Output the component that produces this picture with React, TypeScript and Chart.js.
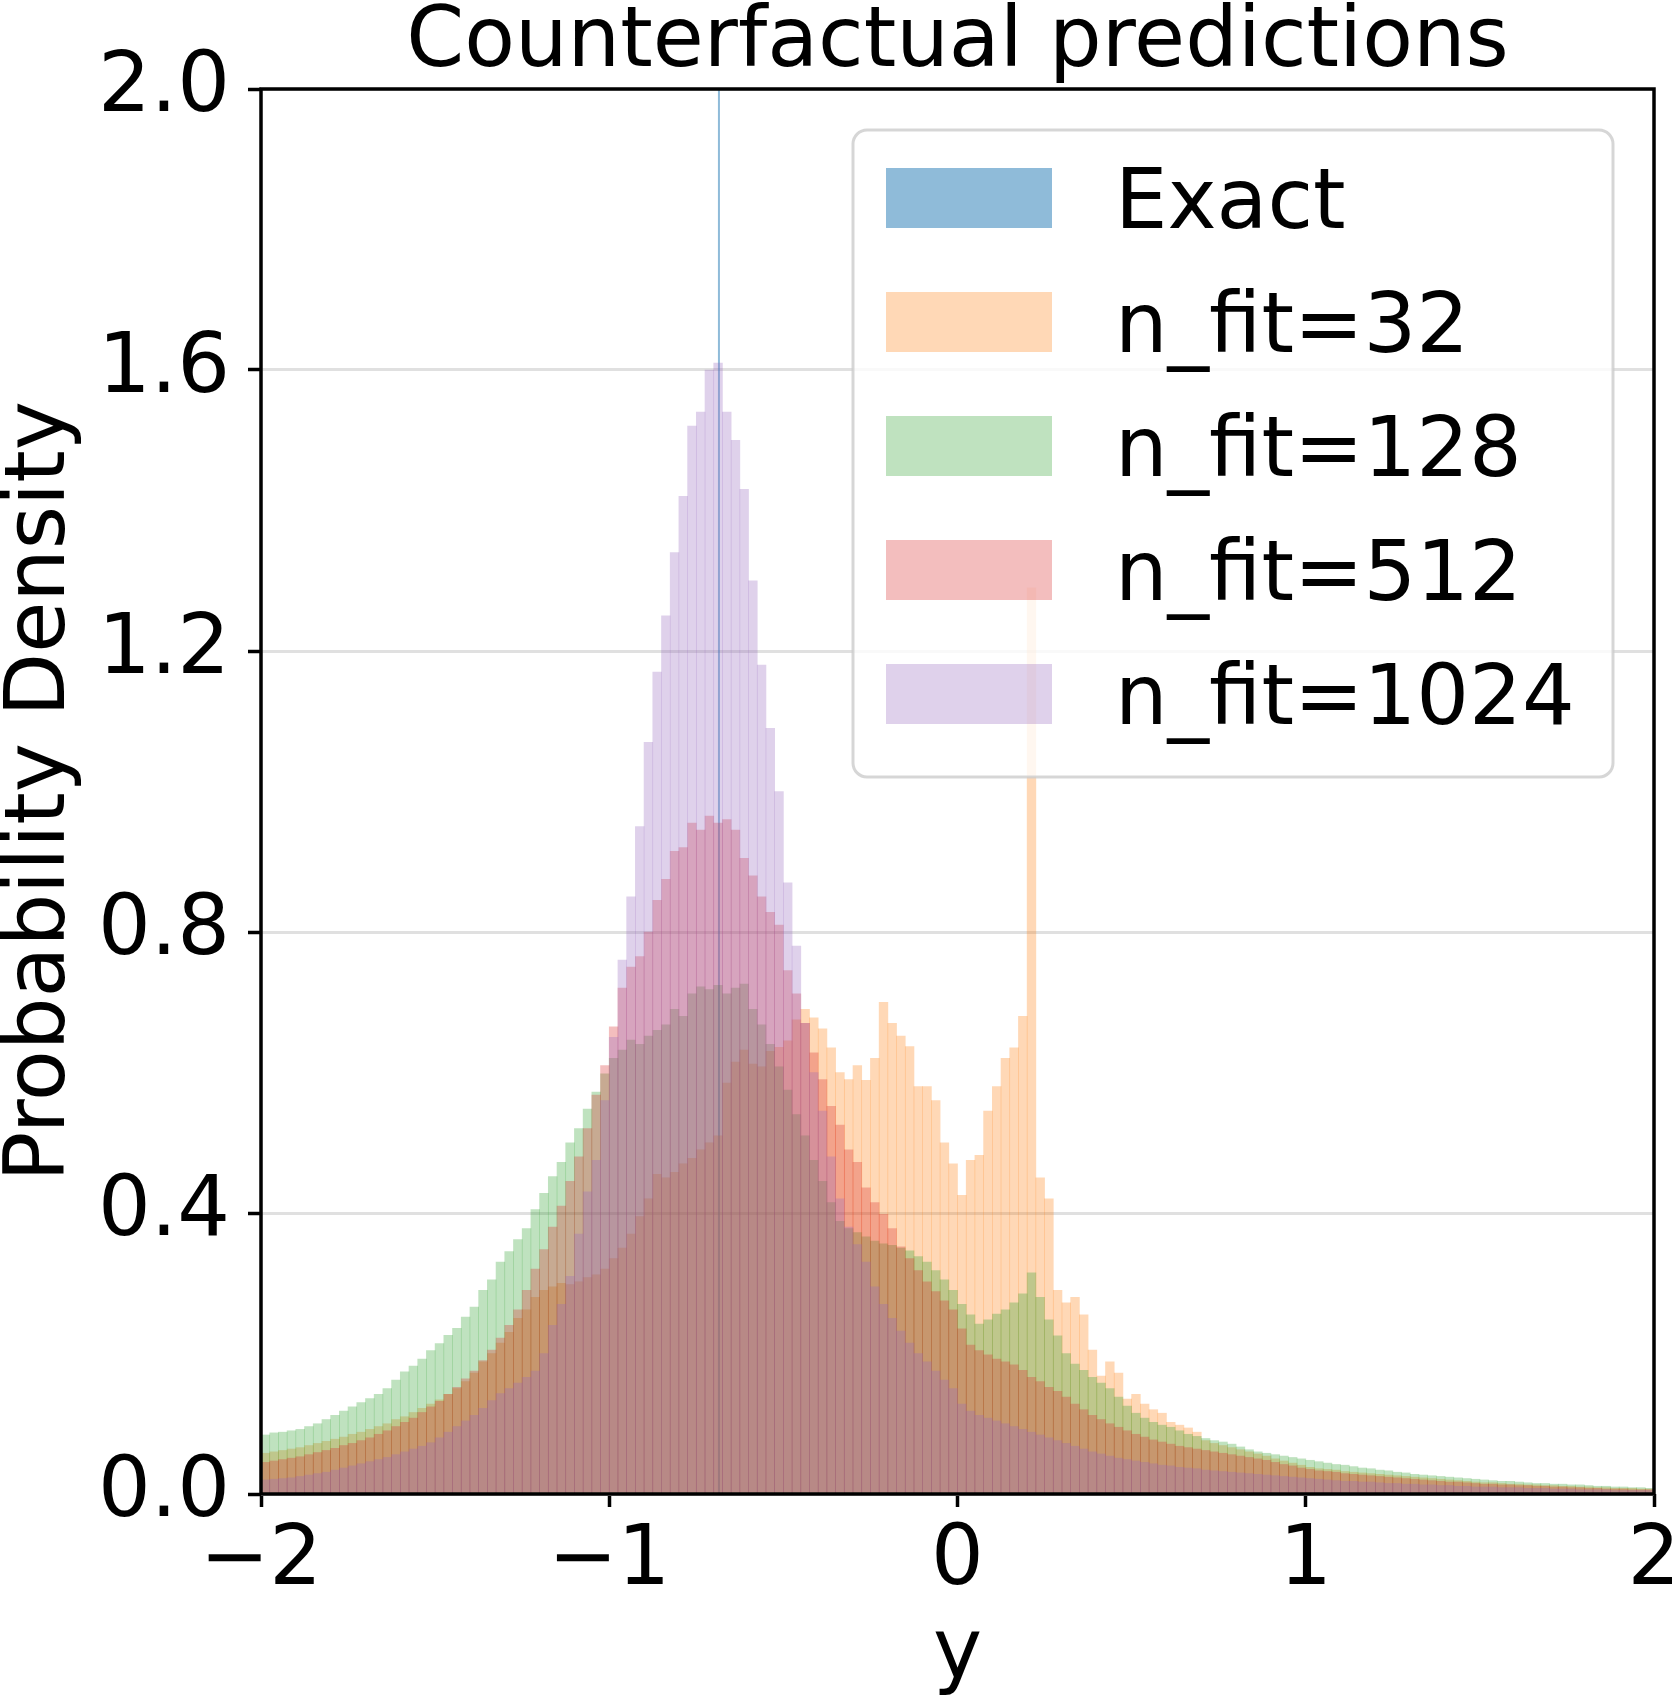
import { useEffect, useRef } from "react";
import { Chart, registerables } from "chart.js";

Chart.register(...registerables);

const chartTitle = "Counterfactual predictions";
const xAxisLabel = "y";
const yAxisLabel = "Probability Density";
const xTickValues = [-2, -1, 0, 1, 2];
const yTickValues = [0, 0.4, 0.8, 1.2, 1.6, 2.0];
const binStart = -2;
const binWidth = 0.025;
const exactValue = -0.685;
const seriesLabels = ["Exact", "n_fit=32", "n_fit=128", "n_fit=512", "n_fit=1024"];
const seriesColors = [
  "rgba(31,119,180,0.5)",
  "rgba(255,127,14,0.3)",
  "rgba(44,160,44,0.3)",
  "rgba(214,39,40,0.3)",
  "rgba(148,103,189,0.3)",
];

const nfit32 = [
  0.058, 0.060, 0.062, 0.064, 0.066, 0.069, 0.072, 0.075, 0.078, 0.081, 0.085, 0.088,
  0.092, 0.096, 0.100, 0.106, 0.110, 0.116, 0.122, 0.128, 0.134, 0.142, 0.150, 0.160,
  0.172, 0.188, 0.200, 0.215, 0.230, 0.250, 0.262, 0.280, 0.290, 0.295, 0.300, 0.298,
  0.302, 0.308, 0.312, 0.320, 0.335, 0.350, 0.370, 0.395, 0.420, 0.455, 0.450, 0.458,
  0.470, 0.478, 0.490, 0.500, 0.510, 0.585, 0.615, 0.632, 0.612, 0.608, 0.630, 0.636,
  0.645, 0.675, 0.690, 0.678, 0.662, 0.635, 0.600, 0.590, 0.610, 0.589, 0.620, 0.700,
  0.670, 0.652, 0.637, 0.580, 0.580, 0.560, 0.500, 0.470, 0.425, 0.475, 0.482, 0.545,
  0.580, 0.620, 0.635, 0.680, 1.290, 0.450, 0.420, 0.290, 0.272, 0.280, 0.255, 0.205,
  0.168, 0.188, 0.172, 0.135, 0.142, 0.128, 0.120, 0.115, 0.102, 0.098, 0.094, 0.088,
  0.076, 0.072, 0.069, 0.066, 0.063, 0.060, 0.057, 0.054, 0.050, 0.047, 0.044, 0.041,
  0.038, 0.036, 0.035, 0.034, 0.032, 0.031, 0.030, 0.029, 0.028, 0.027, 0.026, 0.025,
  0.024, 0.023, 0.022, 0.021, 0.020, 0.019, 0.018, 0.017, 0.016, 0.016, 0.015, 0.014,
  0.014, 0.013, 0.013, 0.012, 0.012, 0.011, 0.011, 0.010, 0.010, 0.009, 0.009, 0.008,
  0.008, 0.008, 0.007, 0.007,
];

const nfit128 = [
  0.084, 0.087, 0.088, 0.090, 0.092, 0.096, 0.100, 0.106, 0.112, 0.118, 0.124, 0.130,
  0.136, 0.142, 0.150, 0.162, 0.174, 0.182, 0.192, 0.204, 0.214, 0.226, 0.236, 0.252,
  0.266, 0.290, 0.305, 0.330, 0.345, 0.362, 0.378, 0.405, 0.428, 0.452, 0.472, 0.500,
  0.520, 0.548, 0.572, 0.598, 0.620, 0.632, 0.646, 0.640, 0.652, 0.660, 0.668, 0.690,
  0.680, 0.712, 0.722, 0.718, 0.724, 0.712, 0.720, 0.726, 0.690, 0.668, 0.640, 0.608,
  0.575, 0.540, 0.510, 0.475, 0.445, 0.415, 0.388, 0.378, 0.372, 0.366, 0.360, 0.356,
  0.354, 0.350, 0.346, 0.338, 0.330, 0.318, 0.305, 0.290, 0.270, 0.255, 0.242, 0.248,
  0.256, 0.262, 0.272, 0.285, 0.315, 0.280, 0.248, 0.225, 0.200, 0.185, 0.176, 0.166,
  0.158, 0.150, 0.138, 0.125, 0.115, 0.108, 0.102, 0.098, 0.095, 0.090, 0.085, 0.082,
  0.079, 0.076, 0.074, 0.071, 0.067, 0.063, 0.060, 0.058, 0.056, 0.054, 0.052, 0.050,
  0.048, 0.046, 0.044, 0.042, 0.041, 0.039, 0.037, 0.036, 0.034, 0.033, 0.031, 0.030,
  0.028, 0.027, 0.026, 0.025, 0.024, 0.023, 0.022, 0.021, 0.020, 0.019, 0.018, 0.018,
  0.017, 0.016, 0.015, 0.015, 0.014, 0.014, 0.013, 0.013, 0.012, 0.011, 0.011, 0.010,
  0.010, 0.009, 0.009, 0.008,
];

const nfit512 = [
  0.045, 0.047, 0.049, 0.051, 0.053, 0.056, 0.059, 0.062, 0.065, 0.069, 0.072, 0.076,
  0.080, 0.085, 0.090, 0.096, 0.102, 0.108, 0.116, 0.124, 0.132, 0.142, 0.152, 0.164,
  0.175, 0.190, 0.205, 0.222, 0.240, 0.262, 0.290, 0.320, 0.348, 0.380, 0.410, 0.445,
  0.480, 0.520, 0.568, 0.610, 0.665, 0.720, 0.750, 0.765, 0.800, 0.845, 0.875, 0.915,
  0.920, 0.955, 0.945, 0.965, 0.955, 0.960, 0.945, 0.905, 0.880, 0.850, 0.828, 0.810,
  0.745, 0.712, 0.670, 0.628, 0.590, 0.552, 0.525, 0.490, 0.472, 0.436, 0.415, 0.398,
  0.378, 0.352, 0.335, 0.318, 0.302, 0.288, 0.275, 0.262, 0.235, 0.212, 0.204, 0.198,
  0.192, 0.188, 0.184, 0.176, 0.166, 0.160, 0.152, 0.146, 0.138, 0.128, 0.120, 0.112,
  0.106, 0.100, 0.095, 0.090, 0.085, 0.081, 0.077, 0.074, 0.071, 0.068, 0.066, 0.064,
  0.062, 0.060, 0.058, 0.056, 0.054, 0.052, 0.050, 0.048, 0.045, 0.042, 0.040, 0.037,
  0.035, 0.033, 0.032, 0.031, 0.029, 0.028, 0.027, 0.026, 0.025, 0.024, 0.023, 0.022,
  0.021, 0.020, 0.019, 0.018, 0.017, 0.017, 0.016, 0.015, 0.014, 0.014, 0.013, 0.013,
  0.012, 0.012, 0.011, 0.011, 0.010, 0.010, 0.009, 0.009, 0.008, 0.008, 0.007, 0.007,
  0.007, 0.006, 0.006, 0.006,
];

const nfit1024 = [
  0.020, 0.021, 0.022, 0.023, 0.025, 0.027, 0.029, 0.031, 0.034, 0.037, 0.040, 0.043,
  0.046, 0.049, 0.052, 0.056, 0.060, 0.064, 0.068, 0.073, 0.080, 0.088, 0.096, 0.104,
  0.112, 0.122, 0.133, 0.143, 0.150, 0.158, 0.166, 0.175, 0.200, 0.240, 0.270, 0.310,
  0.370, 0.430, 0.475, 0.560, 0.650, 0.760, 0.850, 0.950, 1.070, 1.170, 1.250, 1.340,
  1.420, 1.520, 1.540, 1.600, 1.610, 1.540, 1.500, 1.430, 1.300, 1.180, 1.090, 1.000,
  0.870, 0.780, 0.670, 0.600, 0.545, 0.480, 0.420, 0.380, 0.355, 0.330, 0.295, 0.270,
  0.250, 0.232, 0.215, 0.200, 0.188, 0.175, 0.162, 0.150, 0.128, 0.118, 0.112, 0.108,
  0.104, 0.100, 0.096, 0.092, 0.088, 0.084, 0.080, 0.076, 0.072, 0.068, 0.064, 0.060,
  0.057, 0.054, 0.051, 0.049, 0.047, 0.045, 0.043, 0.041, 0.040, 0.038, 0.037, 0.036,
  0.034, 0.033, 0.032, 0.031, 0.030, 0.029, 0.028, 0.027, 0.026, 0.025, 0.024, 0.023,
  0.022, 0.021, 0.020, 0.019, 0.018, 0.018, 0.017, 0.017, 0.016, 0.015, 0.015, 0.014,
  0.014, 0.013, 0.013, 0.012, 0.012, 0.011, 0.011, 0.010, 0.010, 0.010, 0.009, 0.009,
  0.009, 0.008, 0.008, 0.008, 0.007, 0.007, 0.007, 0.006, 0.006, 0.006, 0.006, 0.005,
  0.005, 0.005, 0.005, 0.005,
];

const FONT = "'DejaVu Sans', 'Liberation Sans', sans-serif";
const FS = 83;

const frameLegendPlugin = {
  id: "frameLegend",
  afterDatasetsDraw(chart: any) {
    const { ctx, chartArea: a } = chart;
    ctx.save();
    // spines
    ctx.strokeStyle = "#000";
    ctx.lineWidth = 3.5;
    ctx.strokeRect(a.left, a.top, a.right - a.left, a.bottom - a.top);
    // title centred over the plot area
    ctx.font = `${FS}px ${FONT}`;
    ctx.fillStyle = "#000";
    ctx.textAlign = "center";
    ctx.textBaseline = "alphabetic";
    ctx.fillText(chartTitle, (a.left + a.right) / 2, a.top - 23);
    // legend box
    const lw = 760;
    const lh = 647;
    const lx = a.right - 41 - lw;
    const ly = a.top + 41;
    ctx.beginPath();
    (ctx as any).roundRect(lx, ly, lw, lh, 14);
    ctx.fillStyle = "rgba(255,255,255,0.8)";
    ctx.fill();
    ctx.strokeStyle = "rgba(204,204,204,0.8)";
    ctx.lineWidth = 3;
    ctx.stroke();
    ctx.textAlign = "left";
    seriesLabels.forEach((label, i) => {
      const cy = ly + 68 + i * 124;
      ctx.fillStyle = seriesColors[i];
      ctx.fillRect(lx + 33, cy - 30, 166, 60);
      ctx.fillStyle = "#000";
      ctx.fillText(label, lx + 262, cy + 30);
    });
    ctx.restore();
  },
};

export default function App() {
  const ref = useRef<HTMLCanvasElement>(null);
  useEffect(() => {
    const canvas = ref.current;
    if (!canvas) return;
    const centers = nfit32.map((_, i) => binStart + binWidth * (i + 0.5));
    const toPoints = (vals: number[]) => vals.map((v, i) => ({ x: centers[i], y: v }));
    const barBase = {
      type: "bar" as const,
      grouped: false,
      barPercentage: 1,
      categoryPercentage: 1,
      borderWidth: 0,
    };
    const chart = new Chart(canvas, {
      type: "bar",
      data: {
        datasets: [
          {
            type: "line",
            label: seriesLabels[0],
            data: [
              { x: exactValue, y: 0 },
              { x: exactValue, y: 2 },
            ],
            borderColor: seriesColors[0],
            backgroundColor: seriesColors[0],
            borderWidth: 2,
            pointRadius: 0,
            order: 5,
          } as any,
          { ...barBase, label: seriesLabels[1], data: toPoints(nfit32), backgroundColor: seriesColors[1], order: 4 },
          { ...barBase, label: seriesLabels[2], data: toPoints(nfit128), backgroundColor: seriesColors[2], order: 3 },
          { ...barBase, label: seriesLabels[3], data: toPoints(nfit512), backgroundColor: seriesColors[3], order: 2 },
          { ...barBase, label: seriesLabels[4], data: toPoints(nfit1024), backgroundColor: seriesColors[4], order: 1 },
        ] as any,
      },
      options: {
        responsive: false,
        devicePixelRatio: 1,
        animation: false,
        layout: { padding: { left: 0, right: 19, top: 89, bottom: 0 } },
        plugins: {
          legend: { display: false },
          tooltip: { enabled: false },
          title: { display: false },
        },
        scales: {
          x: {
            type: "linear",
            min: -2,
            max: 2,
            offset: false,
            border: { display: false },
            grid: {
              offset: false,
              drawOnChartArea: false,
              drawTicks: true,
              tickLength: 13,
              tickWidth: 3.5,
              tickColor: "#000",
            },
            ticks: {
              color: "#000",
              font: { size: FS, family: FONT },
              padding: 6,
              maxRotation: 0,
              autoSkip: false,
              callback: (v: any) => (Number(v) < 0 ? "\u2212" + Math.abs(Number(v)) : String(v)),
            },
            afterBuildTicks: (s: any) => {
              s.ticks = xTickValues.map((v) => ({ value: v }));
            },
            afterFit: (s: any) => {
              s.height = 208;
              s.paddingLeft = 0;
              s.paddingRight = 0;
            },
            title: {
              display: true,
              text: xAxisLabel,
              color: "#000",
              font: { size: FS, family: FONT, lineHeight: 1 },
              padding: { top: 0, bottom: 4 },
            },
          },
          y: {
            type: "linear",
            min: 0,
            max: 2,
            border: { display: false },
            grid: {
              color: "#e0e0e0",
              lineWidth: 3,
              drawTicks: true,
              tickLength: 13,
              tickWidth: 3.5,
              tickColor: "#000",
            },
            ticks: {
              color: "#000",
              font: { size: FS, family: FONT },
              padding: 18,
              callback: (v: any) => Number(v).toFixed(1),
            },
            afterBuildTicks: (s: any) => {
              s.ticks = yTickValues.map((v) => ({ value: v }));
            },
            afterFit: (s: any) => {
              s.width = 261;
              s.paddingTop = 0;
              s.paddingBottom = 0;
            },
            title: {
              display: true,
              text: yAxisLabel,
              color: "#000",
              font: { size: FS, family: FONT, lineHeight: 1 },
              padding: { top: 1, bottom: 0 },
            },
          },
        },
      },
      plugins: [frameLegendPlugin],
    });
    return () => chart.destroy();
  }, []);
  return (
    <div style={{ position: "absolute", left: 0, top: 0, width: 1673, height: 1702, background: "#fff" }}>
      <canvas ref={ref} width={1673} height={1702} style={{ width: 1673, height: 1702, display: "block" }} />
    </div>
  );
}
